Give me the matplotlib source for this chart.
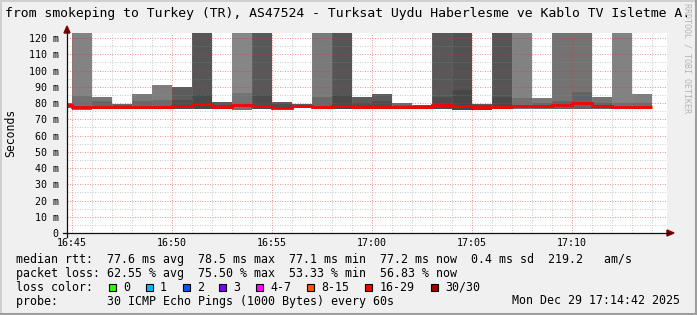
import numpy as np
import matplotlib
matplotlib.use("Agg")
import matplotlib.pyplot as plt
from matplotlib.lines import Line2D
from matplotlib.patches import Polygon, Rectangle
from matplotlib import colors as mcolors

W, H = 697, 315
MONO = "DejaVu Sans Mono"

# minutes after 16:45 at which each sample ends (first one is a partial step)
bin_end = [0, 1, 2, 3, 4, 5, 6, 7, 8, 9, 10, 11, 12, 13, 14, 15, 16, 17, 18, 19,
           20, 21, 22, 23, 24, 25, 26, 27, 28, 29]
first_start = -0.25

# smoke: max rtt (ms), 125 = off the top of the graph
rtt_max = [79.8, 125, 83.8, 79.3, 85.6, 91.2, 90.0, 125, 80.8, 125, 125,
           80.8, 79.2, 125, 125, 83.8, 85.6, 79.8, 78.8, 125, 125,
           79.2, 125, 125, 82.9, 125, 125, 84.0, 125, 85.6]
rtt_core = [78.8, 84.3, 81.0, 78.5, 81.0, 82.0, 82.0, 85.0, 79.0, 86.0, 85.0,
            79.5, 78.6, 84.0, 85.0, 80.0, 81.0, 78.5, 78.2, 84.0, 88.0,
            78.5, 84.0, 83.0, 80.0, 81.0, 87.0, 80.0, 80.0, 80.0]
rtt_min = [76.7, 76.0, 76.6, 76.5, 76.4, 76.5, 76.5, 76.5, 76.6, 75.4, 76.4,
           76.2, 76.8, 76.4, 76.4, 76.3, 76.4, 76.6, 76.6, 76.4, 75.7,
           76.0, 76.4, 76.4, 76.5, 76.2, 76.3, 76.5, 76.5, 76.5]
rtt_median = [78.5, 77.6, 77.5, 77.4, 77.6, 77.8, 78.0, 79.2, 77.6, 78.6, 78.0,
              77.0, 78.0, 77.8, 78.0, 77.3, 77.5, 77.5, 77.8, 79.0, 78.0,
              77.6, 77.6, 78.0, 78.0, 78.6, 80.0, 78.0, 77.5, 77.5]
smoke_gray = ["#777777", "#838383", "#777777", "#6a6a6a", "#7a7a7a", "#7e7e7e",
              "#5c5c5c", "#565656", "#5a5a5a", "#868686", "#585858", "#5a5a5a",
              "#5a5a5a", "#7a7a7a", "#555555", "#5c5c5c", "#5a5a5a", "#6f6f6f",
              "#595959", "#585858", "#525252", "#5a5a5a", "#555555", "#828282",
              "#7a7a7a", "#737373", "#737373", "#737373", "#828282", "#7f7f7f"]

y_ticks = [0, 10, 20, 30, 40, 50, 60, 70, 80, 90, 100, 110, 120]
x_ticks = [0, 5, 10, 15, 20, 25]
x_labels = ["16:45", "16:50", "16:55", "17:00", "17:05", "17:10"]

title = "from smokeping to Turkey (TR), AS47524 - Turksat Uydu Haberlesme ve Kablo TV Isletme A."
legend_rtt = "median rtt:  77.6 ms avg  78.5 ms max  77.1 ms min  77.2 ms now  0.4 ms sd  219.2   am/s"
legend_loss = "packet loss: 62.55 % avg  75.50 % max  53.33 % min  56.83 % now"
loss_names = ["0", "1", "2", "3", "4-7", "8-15", "16-29", "30/30"]
loss_colors = ["#26ff00", "#00b8ff", "#0059ff", "#7e00ff", "#ff00ff", "#ff5500",
               "#ff0000", "#a10000"]
probe_text = "probe:       30 ICMP Echo Pings (1000 Bytes) every 60s"
stamp = "Mon Dec 29 17:14:42 2025"


def fx(px):
    return px / W


def fy(py):
    return 1 - py / H


fig = plt.figure(figsize=(W / 100, H / 100), dpi=100, facecolor="#f0f0f0")
ax = fig.add_axes([fx(67), fy(233), fx(600), 200 / H])
ax.set_facecolor("white")

edges = np.array([first_start] + bin_end, dtype=float)
lefts = edges[:-1]
widths = np.diff(edges)
for i in range(len(lefts)):
    g = smoke_gray[i]
    ax.bar(lefts[i], rtt_max[i] - rtt_min[i], width=widths[i], bottom=rtt_min[i],
           align="edge", color=g, linewidth=0, zorder=1)
    dark = tuple(c * 0.86 for c in mcolors.to_rgb(g))
    ax.bar(lefts[i], rtt_core[i] - rtt_min[i], width=widths[i], bottom=rtt_min[i],
           align="edge", color=dark, linewidth=0, zorder=1.2)

ax.stairs(rtt_median, edges, color="#ff0000", linewidth=2.0, zorder=3, baseline=None)

ax.set_xlim(-0.25, 29.75)
ax.set_ylim(0, 123.1)

ax.set_yticks(y_ticks)
ax.set_yticklabels(["0"] + ["%d m" % v for v in y_ticks[1:]])
ax.set_yticks(np.arange(5, 123, 10), minor=True)
ax.set_xticks(x_ticks)
ax.set_xticklabels(x_labels)
ax.set_xticks(np.arange(0, 30, 1), minor=True)
ax.tick_params(which="both", length=0)
ax.tick_params(axis="y", pad=6, labelsize=7.2)
ax.tick_params(axis="x", pad=3.5, labelsize=7.2)
for lab in ax.get_xticklabels() + ax.get_yticklabels():
    lab.set_fontfamily(MONO)

ax.set_axisbelow(False)
ax.grid(which="minor", color="#8f8f8f", alpha=0.45, linewidth=0.72,
        linestyle=(0, (1, 1.5)))
ax.grid(which="major", color="#de3030", alpha=0.5, linewidth=0.72,
        linestyle=(0, (1, 1.5)))

for s in ax.spines.values():
    s.set_visible(False)

# axis lines and arrows, in figure pixels
fig.add_artist(Line2D([fx(63), fx(670)], [fy(233), fy(233)], color="#101010", lw=0.9))
fig.add_artist(Line2D([fx(67), fx(67)], [fy(237), fy(30)], color="#101010", lw=0.9))
fig.add_artist(Polygon([[fx(64), fy(33)], [fx(70), fy(33)], [fx(67), fy(26)]],
                       closed=True, color="#800000"))
fig.add_artist(Polygon([[fx(667), fy(230)], [fx(667), fy(236)], [fx(674), fy(233)]],
                       closed=True, color="#800000"))

# frame shading
fig.add_artist(Line2D([0, 1], [fy(0.5), fy(0.5)], color="#cfcfcf", lw=1.4))
fig.add_artist(Line2D([fx(0.7), fx(0.7)], [0, 1], color="#cfcfcf", lw=1.4))
fig.add_artist(Line2D([0, 1], [fy(313.8), fy(313.8)], color="#9e9e9e", lw=2.2))
fig.add_artist(Line2D([fx(695.8), fx(695.8)], [0, 1], color="#9e9e9e", lw=2.2))

fig.text(fx(5), fy(13), title, family=MONO, fontsize=9.45, ha="left", va="center")
fig.text(fx(10.5), fy(133), "Seconds", family=MONO, fontsize=8.3, rotation=90,
         ha="center", va="center")
fig.text(fx(687), fy(3), "RRDTOOL / TOBI OETIKER", family=MONO, fontsize=6.0,
         rotation=270, color="#b4b4b4", ha="center", va="top")

fs = 8.35
fig.text(fx(16), fy(259.3), legend_rtt, family=MONO, fontsize=fs, va="center")
fig.text(fx(16), fy(273.3), legend_loss, family=MONO, fontsize=fs, va="center")
fig.text(fx(16), fy(287.3), "loss color:", family=MONO, fontsize=fs, va="center")
box_x = [108.7, 145.7, 182.7, 219.3, 256.3, 307.3, 365.3, 430.7]
for bx, name, col in zip(box_x, loss_names, loss_colors):
    fig.add_artist(Rectangle((fx(bx), fy(291)), fx(7), 7 / H, facecolor=col,
                             edgecolor="black", linewidth=0.8))
    fig.text(fx(bx + 14.3), fy(287.3), name, family=MONO, fontsize=fs, va="center")
fig.text(fx(16), fy(301), probe_text, family=MONO, fontsize=fs, va="center")
fig.text(fx(680.5), fy(301), stamp, family=MONO, fontsize=fs, va="center", ha="right")

fig.savefig("out.png", dpi=100, facecolor=fig.get_facecolor())
